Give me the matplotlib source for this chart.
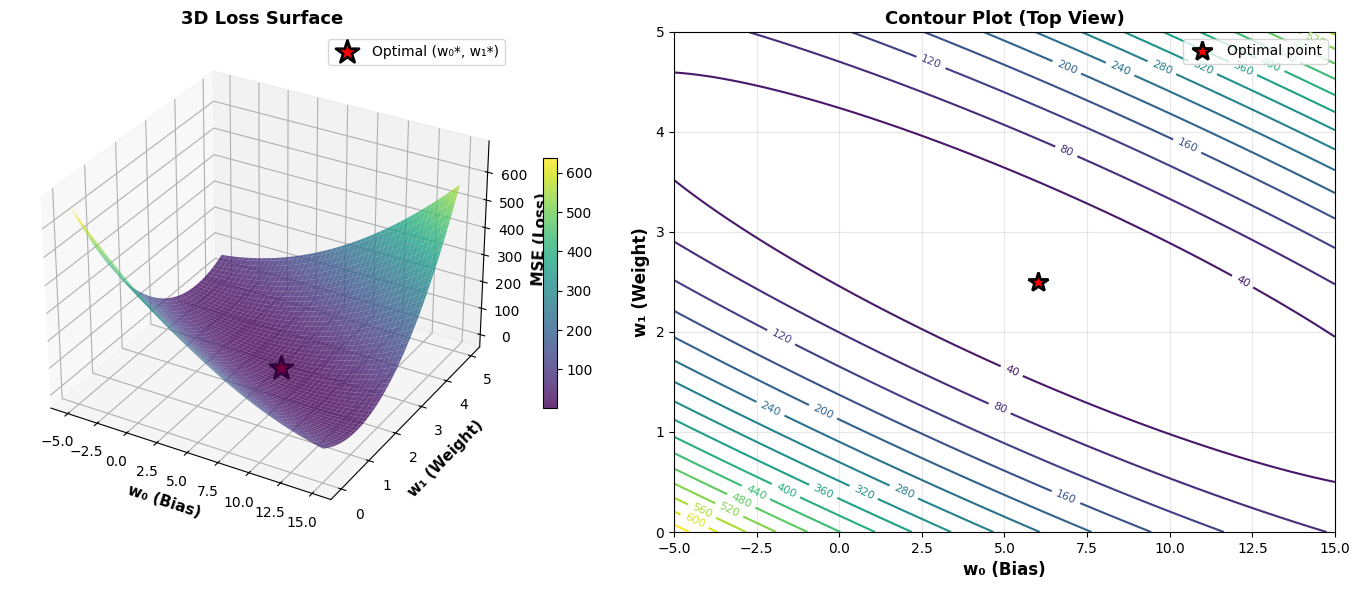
import numpy as np
import matplotlib
matplotlib.use("Agg")
import matplotlib.pyplot as plt
from mpl_toolkits.mplot3d import Axes3D  # noqa: F401

# Loss surface parameters (linear regression MSE)
optimal_w = [6.0, 2.5]          # w0*, w1* (star position)
x_moments = [5.45, 38.5]        # mean(x), mean(x^2) of the training inputs
min_mse = 1.2                   # residual MSE at the optimum

w0_range = [-5, 15]
w1_range = [0, 5]
contour_levels = list(range(0, 680, 40))
z_ticks = list(range(0, 700, 100))

# where the contour labels sit in the reference (w0, w1)
label_spots = [
    (2.77, 4.69), (-1.77, 1.94), (4.86, 1.24), (-2.1, 1.22), (-0.51, 1.19),
    (-2.53, 0.39), (-1.62, 0.41), (-0.51, 0.39), (0.73, 0.39), (1.94, 0.39),
    (-2.98, 0.30), (-3.33, 0.22), (-4.16, 0.20), (-4.39, 0.10),
    (6.85, 4.62), (8.46, 4.60), (9.73, 4.62), (10.97, 4.62), (12.18, 4.61),
    (13.01, 4.65), (13.49, 4.74), (13.95, 4.82), (14.4, 4.92),
    (6.85, 3.79), (10.5, 3.84), (12.18, 2.49), (5.22, 1.61), (6.85, 0.34),
]


def mse(w0, w1):
    """MSE of y = w0 + w1*x written through the data moments."""
    mx, sxx = x_moments
    d0 = w0 - optimal_w[0]
    d1 = w1 - optimal_w[1]
    return d0 ** 2 + 2 * mx * d0 * d1 + sxx * d1 ** 2 + min_mse


w0_vals = np.linspace(w0_range[0], w0_range[1], 100)
w1_vals = np.linspace(w1_range[0], w1_range[1], 100)
W0, W1 = np.meshgrid(w0_vals, w1_vals)
Z = mse(W0, W1)
z_opt = mse(optimal_w[0], optimal_w[1])

fig = plt.figure(figsize=(13.6, 5.9), dpi=100)

# 3D surface
ax1 = fig.add_axes([0.008, 0.1, 0.37, 0.845], projection='3d')
surf = ax1.plot_surface(W0, W1, Z, cmap='viridis', alpha=0.8)
ax1.scatter([optimal_w[0]], [optimal_w[1]], [z_opt], color='red', marker='*',
            s=300, edgecolors='black', linewidths=2, label='Optimal (w₀*, w₁*)')
ax1.set_zticks(z_ticks)
ax1.set_xlabel('w₀ (Bias)', fontsize=11, fontweight='bold')
ax1.set_ylabel('w₁ (Weight)', fontsize=11, fontweight='bold')
ax1.set_zlabel('MSE (Loss)', fontsize=11, fontweight='bold')
ax1.set_title('3D Loss Surface', fontsize=13, fontweight='bold')
ax1.legend(loc='upper right')
cax = fig.add_axes([0.399, 0.308, 0.0103, 0.424])
fig.colorbar(surf, cax=cax)

# Contour plot
ax2 = fig.add_axes([0.4956, 0.0983, 0.486, 0.8475])
cs = ax2.contour(W0, W1, Z, levels=contour_levels, cmap='viridis')
ax2.clabel(cs, inline=True, fontsize=8, manual=label_spots)
ax2.plot(optimal_w[0], optimal_w[1], 'r*', markersize=15,
         markeredgecolor='black', markeredgewidth=2, label='Optimal point')
ax2.set_xlabel('w₀ (Bias)', fontsize=12, fontweight='bold')
ax2.set_ylabel('w₁ (Weight)', fontsize=12, fontweight='bold')
ax2.set_title('Contour Plot (Top View)', fontsize=13, fontweight='bold')
ax2.legend(loc='upper right')
ax2.grid(True, alpha=0.3)

plt.savefig('out.png', dpi=100)
